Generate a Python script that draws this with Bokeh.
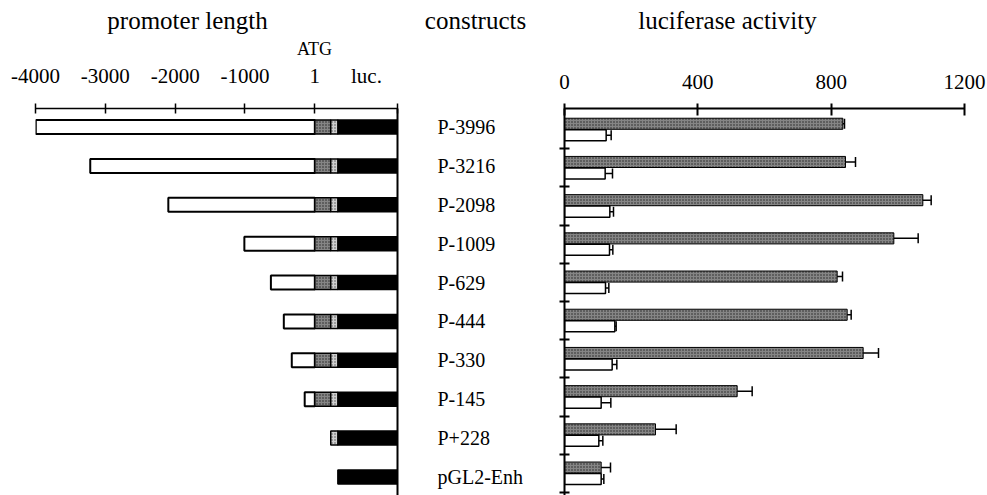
from bokeh.plotting import figure
from bokeh.models import Range1d, FixedTicker, ColumnDataSource, Whisker, TeeHead
from bokeh.layouts import row, column
from bokeh.core.properties import value
from bokeh.embed import file_html
from bokeh.resources import INLINE

# ---------------- data ----------------
constructs = ["P-3996", "P-3216", "P-2098", "P-1009", "P-629",
              "P-444", "P-330", "P-145", "P+228", "pGL2-Enh"]
promoter_start = [-3996, -3216, -2098, -1009, -629, -444, -330, -145, 228, None]
utr_end = 228        # end of dark stippled segment (after ATG)
intron_end = 330     # end of light stippled segment
luc_end = 1184       # end of luciferase gene on the map
axis_ticks_bp = [-4000, -3000, -2000, -1000, 0]
axis_labels_bp = ["-4000", "-3000", "-2000", "-1000", "1"]

act_dark = [835, 843, 1075, 988, 818, 848, 896, 518, 273, 110]
act_dark_err = [5, 30, 25, 73, 16, 12, 46, 45, 62, 28]
act_open = [125, 122, 136, 135, 123, 151, 143, 110, 103, 110]
act_open_err = [15, 22, 11, 10, 10, 4, 14, 29, 12, 8]
act_ticks = [0, 400, 800, 1200]

titles = ["promoter length", "constructs", "luciferase activity"]

FONT = "Liberation Serif"
DARK = "#858585"
LIGHT = "#cfcfcf"

n = len(constructs)
rows = list(range(n))

W, H_TOTAL = 987, 495
HEADER_H = 60
LOW_H = H_TOTAL - HEADER_H
SHIFT = -2   # small correction of the panels' vertical placement

# ---------------- header with titles ----------------
ph = figure(width=W, height=HEADER_H, x_range=Range1d(0, W), y_range=Range1d(HEADER_H, 0),
            x_axis_type=None, y_axis_type=None, output_backend="svg", toolbar_location=None,
            min_border=0)
ph.outline_line_color = None
ph.grid.visible = False
ph.text(x=[187, 475, 727], y=[20, 20, 20], text=titles,
        text_font=value(FONT), text_font_size="25px", text_align="center",
        text_baseline="middle", text_color="black")
ph.text(x=[314], y=[48], text=["ATG"],
        text_font=value(FONT), text_font_size="18px", text_align="center",
        text_baseline="middle", text_color="black")

# ---------------- left panel: promoter map ----------------
A_ROW_PX = 39.07
A_TOP = 108 + SHIFT - HEADER_H
A_ROW0 = 126.7 - 108          # px from frame top to first row centre
A_FRAME_H = LOW_H - A_TOP
pa = figure(width=540, height=LOW_H,
            x_range=Range1d(-4000, luc_end),
            y_range=Range1d((A_FRAME_H - A_ROW0) / A_ROW_PX, -A_ROW0 / A_ROW_PX),
            x_axis_location="above", y_axis_location="right",
            output_backend="svg", toolbar_location=None,
            min_border_left=35, min_border_right=143, min_border_top=A_TOP, min_border_bottom=0)
pa.outline_line_color = None
pa.grid.visible = False

wl, wr, wy = [], [], []
dl, dr, dy = [], [], []
ll, lr, ly = [], [], []
bl, br, by = [], [], []
for i, s in enumerate(promoter_start):
    if s is not None and s < 0:
        wl.append(s); wr.append(0); wy.append(i)
    if s is not None and s < utr_end:
        dl.append(max(s, 0)); dr.append(utr_end); dy.append(i)
    if s is not None:
        ll.append(max(s, utr_end)); lr.append(intron_end); ly.append(i)
    bl.append(intron_end); br.append(luc_end); by.append(i)

H = 0.36
pa.hbar(y=by, left=bl, right=br, height=H, fill_color="black", line_color="black", line_width=1.5)
pa.hbar(y=wy, left=wl, right=wr, height=H, fill_color="white", line_color="black", line_width=2)
pa.hbar(y=dy, left=dl, right=dr, height=H, fill_color=DARK, line_color="black", line_width=1.5,
        hatch_pattern="dot", hatch_color="#222222", hatch_scale=3, hatch_weight=1)
pa.hbar(y=ly, left=ll, right=lr, height=H, fill_color=LIGHT, line_color="black", line_width=1.5,
        hatch_pattern="dot", hatch_color="#555555", hatch_scale=3, hatch_weight=1)

xa = pa.xaxis[0]
luc_label_pos = 740
xa.ticker = FixedTicker(ticks=axis_ticks_bp + [luc_label_pos],
                        minor_ticks=axis_ticks_bp + [luc_end])
ov = {t: lab for t, lab in zip(axis_ticks_bp, axis_labels_bp)}
ov[luc_label_pos] = "luc."
xa.major_label_overrides = ov
xa.major_tick_in = 0
xa.major_tick_out = 0
xa.minor_tick_in = 5
xa.minor_tick_out = 5
xa.minor_tick_line_color = "black"
xa.minor_tick_line_width = 1.5
xa.axis_line_width = 1.5
xa.axis_line_color = "black"
xa.major_label_standoff = 16
xa.major_label_text_font = FONT
xa.major_label_text_font_size = "21px"
xa.major_label_text_color = "black"

ya = pa.yaxis[0]
ya.ticker = FixedTicker(ticks=rows)
ya.major_label_overrides = {i: c for i, c in enumerate(constructs)}
ya.major_tick_in = 0
ya.major_tick_out = 0
ya.minor_tick_in = 0
ya.minor_tick_out = 0
ya.axis_line_width = 2
ya.axis_line_color = "black"
ya.major_label_standoff = 40
ya.major_label_text_font = FONT
ya.major_label_text_font_size = "20px"
ya.major_label_text_color = "black"

# ---------------- right panel: luciferase activity ----------------
C_ROW_PX = 38.2
C_TOP = 110 + SHIFT - HEADER_H
C_ROW0 = 131 - 110
C_FRAME_H = LOW_H - C_TOP
pc = figure(width=W - 540, height=LOW_H,
            x_range=Range1d(0, 1200),
            y_range=Range1d((C_FRAME_H - C_ROW0) / C_ROW_PX, -C_ROW0 / C_ROW_PX),
            x_axis_location="above", y_axis_location="left",
            output_backend="svg", toolbar_location=None,
            min_border_left=24, min_border_right=23, min_border_top=C_TOP, min_border_bottom=0)
pc.outline_line_color = None
pc.grid.visible = False

OFF = 0.15
BH = 0.29
yd = [i - OFF for i in rows]
yo = [i + OFF for i in rows]
pc.hbar(y=yd, left=0, right=act_dark, height=BH, fill_color=DARK, line_color="black", line_width=1,
        hatch_pattern="dot", hatch_color="#222222", hatch_scale=3, hatch_weight=1)
pc.hbar(y=yo, left=0, right=act_open, height=BH, fill_color="white", line_color="black", line_width=1.5)

src_d = ColumnDataSource(dict(y=yd,
                              lo=[v - e for v, e in zip(act_dark, act_dark_err)],
                              hi=[v + e for v, e in zip(act_dark, act_dark_err)]))
src_o = ColumnDataSource(dict(y=yo,
                              lo=[v - e for v, e in zip(act_open, act_open_err)],
                              hi=[v + e for v, e in zip(act_open, act_open_err)]))
for src in (src_d, src_o):
    pc.add_layout(Whisker(source=src, base="y", lower="lo", upper="hi", dimension="width",
                          line_color="black", line_width=1.5,
                          upper_head=TeeHead(size=10, line_color="black", line_width=1.5),
                          lower_head=TeeHead(size=10, line_color="black", line_width=1.5)))

xc = pc.xaxis[0]
xc.ticker = FixedTicker(ticks=act_ticks)
xc.major_label_overrides = {t: str(t) for t in act_ticks}
xc.major_tick_in = 7
xc.major_tick_out = 5
xc.minor_tick_in = 0
xc.minor_tick_out = 0
xc.major_tick_line_width = 2
xc.axis_line_width = 2
xc.major_label_standoff = 15
xc.major_label_text_font = FONT
xc.major_label_text_font_size = "21px"
xc.major_label_text_color = "black"

yc = pc.yaxis[0]
bounds_ticks = [i + 0.5 for i in rows]
yc.ticker = FixedTicker(ticks=bounds_ticks)
yc.major_label_overrides = {t: "" for t in bounds_ticks}
yc.major_tick_in = 5
yc.major_tick_out = 5
yc.minor_tick_in = 0
yc.minor_tick_out = 0
yc.major_tick_line_width = 2
yc.axis_line_width = 2

layout = column(ph, row(pa, pc, spacing=0), spacing=0)
open("out.html", "w").write(file_html(layout, INLINE))
